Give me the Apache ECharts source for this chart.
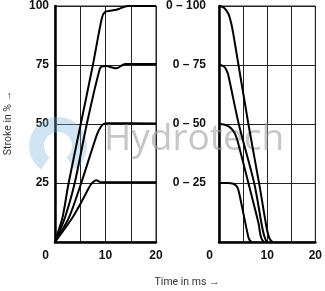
<!DOCTYPE html>
<html>
<head>
<meta charset="utf-8">
<script src="https://cdn.jsdelivr.net/npm/echarts@6/dist/echarts.min.js"></script>
<style>
  html, body { margin: 0; padding: 0; background: #fff; }
  #chart { width: 325px; height: 291px; }
</style>
</head>
<body>
<div id="chart"></div>
<script>
// opening (left) curves, [time ms, stroke %]
const open100 = [[0,0],[0.5,3.5],[1.5,10.5],[2.7,25],[5.1,50],[7.5,75],[9.3,95],[9.9,97.5],[11,98],[12.5,98.6],[13.5,99.5],[14.5,100],[20,100]];
const open75 = [[0,0],[0.7,3.5],[2,10.5],[3.9,25],[6.3,50],[8.9,73.6],[9.5,74.5],[10.3,74.6],[11.2,74],[12.2,73.6],[13.2,74.8],[14,75.4],[20,75.4]];
const open50 = [[0,0],[1,3.5],[2.8,10.5],[5.2,25],[7,37],[8.4,46],[9,48.5],[9.6,50],[10.5,50.3],[20,50.2]];
const open25 = [[0,0],[1.2,3.5],[3.5,10.5],[5.5,18],[7,24],[7.6,25.5],[8.2,26.2],[9,25.4],[20,25.3]];

// closing (right) curves
const close100 = [[0,100],[0.7,99.6],[1.4,98.5],[2,96.5],[2.5,93],[2.9,89],[6.1,50],[8.4,24],[9.8,7],[10.3,2.5],[10.8,0.5],[11.2,0]];
const close75 = [[0,75],[0.6,74.8],[1.1,74.2],[1.5,73],[1.9,71],[4.1,50],[7.3,25],[8.9,7],[9.4,2.5],[9.8,0.5],[10.2,0]];
const close50 = [[0,50],[1,49.8],[2,49],[2.8,47.5],[3.4,45.5],[3.9,42.5],[6.1,25],[8.2,8],[8.6,3],[9,0.7],[9.4,0]];
const close25 = [[0,25],[2,25],[2.8,24.8],[3.3,24.3],[3.75,23.4],[4.1,21.5],[6.1,2],[6.4,0.7],[6.8,0]];

const xTicks = [0, 10, 20];
const leftTicks = ['25', '50', '75', '100'];
const rightTicks = ['0 – 25', '0 – 50', '0 – 75', '0 – 100'];

const labelFont = { fontFamily: 'Liberation Sans', fontWeight: 'bold', fontSize: 12, color: '#111' };

function xAxis(gridIndex) {
    return {
        type: 'value', gridIndex: gridIndex, min: 0, max: 20, interval: 5,
        axisLine: { show: true, lineStyle: { color: '#000', width: 2.5 } },
        axisTick: { show: false },
        splitLine: { show: true, lineStyle: { color: '#222', width: 1 } },
        axisLabel: Object.assign({}, labelFont, {
            margin: 8,
            formatter: function (v) {
                if (xTicks.indexOf(v) < 0) return '';
                return v === 0 ? '{z|0}' : String(v);
            },
            rich: { z: Object.assign({}, labelFont, { padding: [0, 19, 0, 0] }) }
        })
    };
}

function yAxis(gridIndex, ticks, margin) {
    return {
        type: 'value', gridIndex: gridIndex, min: 0, max: 100, interval: 25,
        axisLine: { show: true, lineStyle: { color: '#000', width: 2.5 } },
        axisTick: { show: false },
        splitLine: { show: true, lineStyle: { color: '#222', width: 1 } },
        axisLabel: Object.assign({}, labelFont, {
            margin: margin,
            formatter: function (v) { return v === 0 ? '' : ticks[v / 25 - 1]; }
        })
    };
}

function curve(data, idx) {
    return {
        type: 'line', data: data, xAxisIndex: idx, yAxisIndex: idx,
        smooth: 0.3, symbol: 'none', clip: false, z: 5,
        lineStyle: { color: '#000', width: 2 }
    };
}

const chart = echarts.init(document.getElementById('chart'));
chart.setOption({
    animation: false,
    grid: [
        { left: 55, top: 6, width: 101, height: 236, show: true, borderColor: '#222', borderWidth: 1 },
        { left: 219, top: 6, width: 99, height: 236, show: true, borderColor: '#222', borderWidth: 1 }
    ],
    xAxis: [xAxis(0), xAxis(1)],
    yAxis: [yAxis(0, leftTicks, 6), yAxis(1, rightTicks, 13)],
    graphic: [
        {   // watermark swirl
            type: 'sector', z: 1, silent: true,
            shape: { cx: 58, cy: 146, r: 29, r0: 14, startAngle: Math.PI * 0.7, endAngle: Math.PI * 2.3 },
            style: { fill: 'rgba(120,180,215,0.35)' }
        },
        {
            type: 'text', z: 1, silent: true, left: 104, top: 121,
            style: { text: 'Hydrotech', fontFamily: 'Open Sans', fontSize: 37, fill: 'rgba(160,160,160,0.6)' }
        },
        {
            type: 'text', x: 8, y: 123, rotation: Math.PI / 2, silent: true,
            style: { text: 'Stroke in % →', fontFamily: 'Roboto', fontSize: 10.5, fill: '#333', align: 'center', verticalAlign: 'middle' }
        },
        {
            type: 'text', x: 187, y: 282, silent: true,
            style: { text: 'Time in ms →', fontFamily: 'Roboto', fontSize: 10.5, fill: '#333', align: 'center', verticalAlign: 'middle' }
        }
    ],
    series: [
        curve(open100, 0), curve(open75, 0), curve(open50, 0), curve(open25, 0),
        curve(close100, 1), curve(close75, 1), curve(close50, 1), curve(close25, 1)
    ]
});
</script>
</body>
</html>
